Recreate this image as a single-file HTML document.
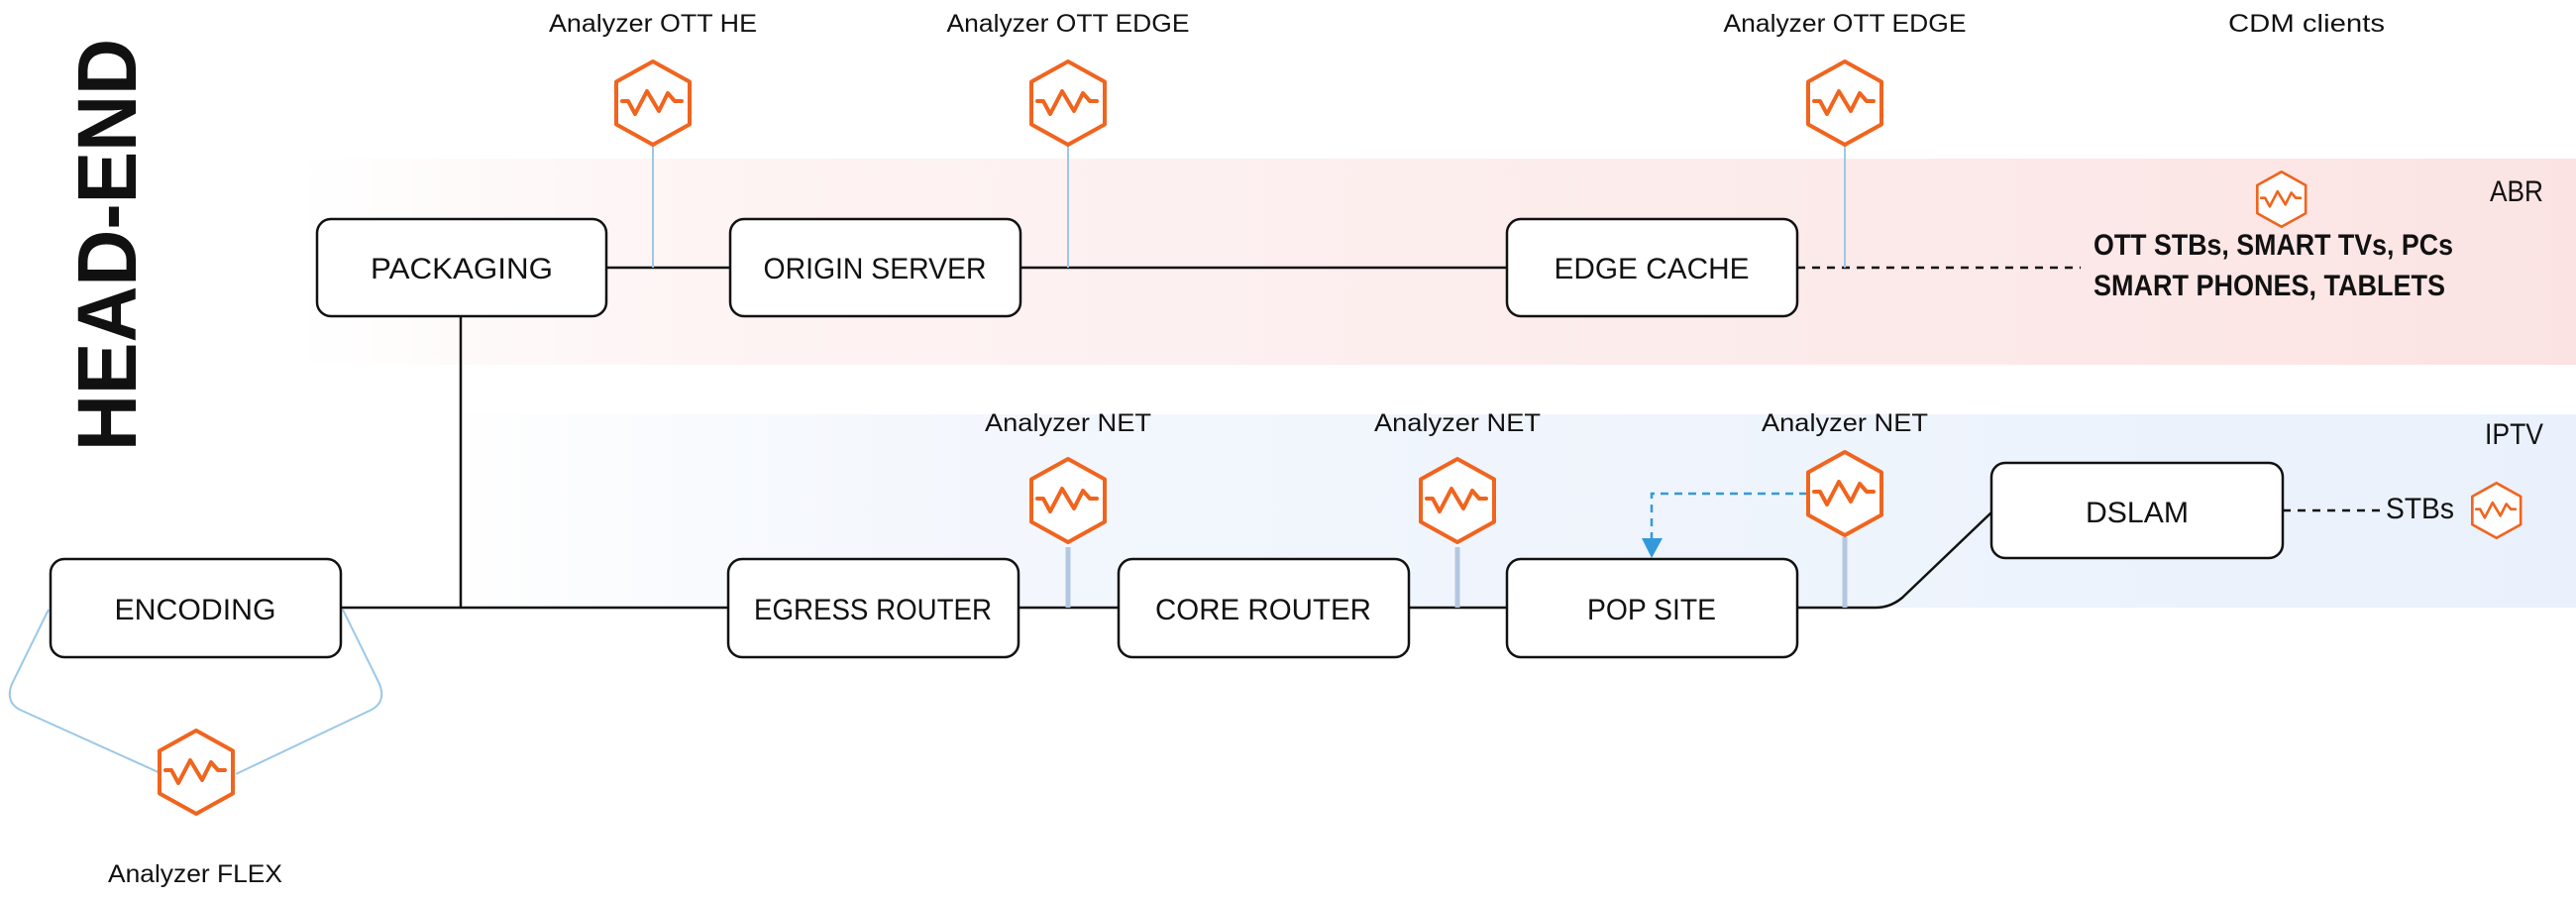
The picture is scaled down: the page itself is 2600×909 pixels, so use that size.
<!DOCTYPE html>
<html><head><meta charset="utf-8"><style>
html,body{margin:0;padding:0;background:#fff;}
svg{display:block;}
text{font-family:"Liberation Sans",sans-serif;fill:#111;}
</style></head><body>
<svg width="2600" height="909" viewBox="0 0 2600 909" xmlns="http://www.w3.org/2000/svg">
<defs>
<linearGradient id="abr" x1="0" x2="1" y1="0" y2="0">
<stop offset="0" stop-color="#fde9e9" stop-opacity="0"/>
<stop offset="0.2" stop-color="#fdeeee" stop-opacity="0.7"/>
<stop offset="1" stop-color="#fbe3e3"/>
</linearGradient>
<linearGradient id="iptv" x1="0" x2="1" y1="0" y2="0">
<stop offset="0" stop-color="#eef3fc" stop-opacity="0"/>
<stop offset="0.25" stop-color="#f3f7fd"/>
<stop offset="1" stop-color="#eaf1fc"/>
</linearGradient>
<g id="hex">
<polygon points="39,2 76,22.5 76,65.5 39,86 2,65.5 2,22.5" fill="#fff" stroke="#f0641e" stroke-width="4" stroke-linejoin="round"/>
<polyline points="8,42 14,42 21,55 33,32 45,52 54,34 61,42 68,42" fill="none" stroke="#f0641e" stroke-width="4" stroke-linejoin="round" stroke-linecap="round"/>
</g>
</defs>

<rect x="300" y="160" width="2300" height="208" fill="url(#abr)"/>
<rect x="450" y="418" width="2150" height="195" fill="url(#iptv)"/>

<text transform="translate(137,455) rotate(-90)" font-size="84" font-weight="bold" textLength="416" lengthAdjust="spacingAndGlyphs">HEAD-END</text>

<g stroke="#111" stroke-width="2.5" fill="none">
<line x1="612" y1="270" x2="737" y2="270"/>
<line x1="1030" y1="270" x2="1521" y2="270"/>
<line x1="465" y1="319" x2="465" y2="613"/>
<line x1="344" y1="613" x2="735" y2="613"/>
<line x1="1028" y1="613" x2="1129" y2="613"/>
<line x1="1422" y1="613" x2="1521" y2="613"/>
<path d="M1814 613 H1893 Q1908 613 1920 603 L2010 517"/>
<line x1="1814" y1="270" x2="2100" y2="270" stroke-dasharray="8,7"/>
<line x1="2304" y1="515" x2="2403" y2="515" stroke-dasharray="8,7"/>
</g>

<g stroke="#9cc8e6" stroke-width="2" fill="none">
<line x1="659" y1="146" x2="659" y2="270"/>
<line x1="1078" y1="146" x2="1078" y2="270"/>
<line x1="1862" y1="146" x2="1862" y2="270"/>
<path d="M49 615 L12 690 Q5 708 20 716 L173 785"/>
<path d="M346 615 L383 690 Q390 708 375 716 L238 781"/>
</g>
<g stroke="#b3c7e0" stroke-width="5" fill="none">
<line x1="1078" y1="552" x2="1078" y2="613"/>
<line x1="1471" y1="552" x2="1471" y2="613"/>
<line x1="1862" y1="542" x2="1862" y2="613"/>
</g>
<path d="M1824 498 H1667 V548" stroke="#3399dd" stroke-width="2.5" fill="none" stroke-dasharray="8,6"/>
<polygon points="1657,543 1678,543 1667,563" fill="#3399dd"/>

<g fill="#fff" stroke="#111" stroke-width="2.5">
<rect x="320" y="221" width="292" height="98" rx="14"/>
<rect x="737" y="221" width="293" height="98" rx="14"/>
<rect x="1521" y="221" width="293" height="98" rx="14"/>
<rect x="51" y="564" width="293" height="99" rx="14"/>
<rect x="735" y="564" width="293" height="99" rx="14"/>
<rect x="1129" y="564" width="293" height="99" rx="14"/>
<rect x="1521" y="564" width="293" height="99" rx="14"/>
<rect x="2010" y="467" width="294" height="96" rx="14"/>
</g>
<g font-size="30" text-anchor="middle">
<text x="466" y="281" textLength="184" lengthAdjust="spacingAndGlyphs">PACKAGING</text>
<text x="883" y="281" textLength="225" lengthAdjust="spacingAndGlyphs">ORIGIN SERVER</text>
<text x="1667" y="281" textLength="197" lengthAdjust="spacingAndGlyphs">EDGE CACHE</text>
<text x="197" y="625" textLength="163" lengthAdjust="spacingAndGlyphs">ENCODING</text>
<text x="881" y="625" textLength="240" lengthAdjust="spacingAndGlyphs">EGRESS ROUTER</text>
<text x="1275" y="625" textLength="218" lengthAdjust="spacingAndGlyphs">CORE ROUTER</text>
<text x="1667" y="625" textLength="130" lengthAdjust="spacingAndGlyphs">POP SITE</text>
<text x="2157" y="527" textLength="104" lengthAdjust="spacingAndGlyphs">DSLAM</text>
</g>

<use href="#hex" transform="translate(620,60)"/>
<use href="#hex" transform="translate(1039,60)"/>
<use href="#hex" transform="translate(1823,60)"/>
<use href="#hex" transform="translate(1039,461)"/>
<use href="#hex" transform="translate(1432,461)"/>
<use href="#hex" transform="translate(1823,454)"/>
<use href="#hex" transform="translate(159,735)"/>
<use href="#hex" transform="translate(2277,172) scale(0.66)"/>
<use href="#hex" transform="translate(2494,486) scale(0.66)"/>

<g font-size="25" text-anchor="middle">
<text x="659" y="32" textLength="210" lengthAdjust="spacingAndGlyphs">Analyzer OTT HE</text>
<text x="1078" y="32" textLength="245" lengthAdjust="spacingAndGlyphs">Analyzer OTT EDGE</text>
<text x="1862" y="32" textLength="245" lengthAdjust="spacingAndGlyphs">Analyzer OTT EDGE</text>
<text x="2328" y="32" textLength="158" lengthAdjust="spacingAndGlyphs">CDM clients</text>
<text x="1078" y="435" textLength="168" lengthAdjust="spacingAndGlyphs">Analyzer NET</text>
<text x="1471" y="435" textLength="168" lengthAdjust="spacingAndGlyphs">Analyzer NET</text>
<text x="1862" y="435" textLength="168" lengthAdjust="spacingAndGlyphs">Analyzer NET</text>
<text x="197" y="890" textLength="176" lengthAdjust="spacingAndGlyphs">Analyzer FLEX</text>
</g>
<g font-size="30">
<text x="2113" y="257" font-weight="bold" textLength="363" lengthAdjust="spacingAndGlyphs">OTT STBs, SMART TVs, PCs</text>
<text x="2113" y="298" font-weight="bold" textLength="355" lengthAdjust="spacingAndGlyphs">SMART PHONES, TABLETS</text>
<text x="2513" y="203" textLength="54" lengthAdjust="spacingAndGlyphs">ABR</text>
<text x="2508" y="448" textLength="59" lengthAdjust="spacingAndGlyphs">IPTV</text>
<text x="2408" y="523" textLength="69" lengthAdjust="spacingAndGlyphs">STBs</text>
</g>
</svg>
</body></html>
